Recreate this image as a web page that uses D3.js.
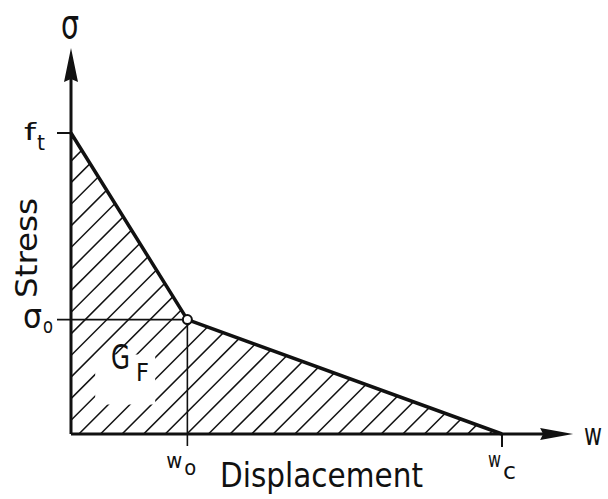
<!DOCTYPE html>
<html>
<head>
<meta charset="utf-8">
<script src="https://cdn.jsdelivr.net/npm/d3@7"></script>
<style>
  html, body { margin: 0; padding: 0; background: #fff; }
  svg { display: block; }
  text { font-family: "DejaVu Sans", sans-serif; fill: #111; }
</style>
</head>
<body>
<svg id="chart" width="608" height="499"></svg>
<script>
// Bilinear softening law: crack opening w against transmitted stress sigma,
// normalised so that f_t = 1 and w_c = 1.
const crackOpening = [0, 0.27, 1];      // 0, w_o, w_c
const stressValues = [1, 0.38, 0];      // f_t, sigma_o, 0
const axisExtent = { w: 1.165, sigma: 1.282 };

// Labels on the axes
const wTickLabels = [
  { main: "w", sub: "o", value: crackOpening[1] },
  { main: "w", sub: "c", value: crackOpening[2] }
];
const sigmaTickLabels = [
  { main: "f", sub: "t", value: stressValues[0] },
  { main: "σ", sub: "o", value: stressValues[1] }
];
const axisTitles = { x: "Displacement", y: "Stress", xSymbol: "w", ySymbol: "σ" };
const areaLabel = { main: "G", sub: "F" };

const svg = d3.select("#chart");
const ink = "#111";

const x = d3.scaleLinear().domain([0, 1]).range([71, 502]);
const y = d3.scaleLinear().domain([0, 1]).range([434, 133]);

const points = crackOpening.map((w, i) => [w, stressValues[i]]);
const polygon = [[0, 0], ...points].map(([w, s]) => [x(w), y(s)]);

// Hatched area under the softening curve (fracture energy)
const defs = svg.append("defs");
defs.append("clipPath").attr("id", "areaClip")
  .append("path")
  .attr("d", "M" + polygon.map(p => p.join(",")).join("L") + "Z");

const mask = defs.append("mask").attr("id", "labelGap");
mask.append("rect").attr("x", 0).attr("y", 0).attr("width", 608).attr("height", 499).attr("fill", "#fff");

const gfX = x(crackOpening[1] * 0.5) - 14;   // centre of the label box
const gfY = y(stressValues[1] * 0.45);
mask.append("rect")
  .attr("x", gfX - 20).attr("y", gfY - 28)
  .attr("width", 60).attr("height", 50)
  .attr("fill", "#000");

const hatch = svg.append("g")
  .attr("clip-path", "url(#areaClip)")
  .attr("mask", "url(#labelGap)");
const spacing = 21.6;
const c0 = x(0.77) + y(0);
const hatchC = d3.range(-30, 40).map(k => c0 - k * spacing);
hatch.selectAll("line").data(hatchC).join("line")
  .attr("x1", c => c - 500).attr("y1", 500)
  .attr("x2", c => c).attr("y2", 0)
  .attr("stroke", ink).attr("stroke-width", 1.5);

// Guide lines to w_o and sigma_o
svg.append("line")
  .attr("x1", x(0) - 14).attr("y1", y(stressValues[1]))
  .attr("x2", x(crackOpening[1])).attr("y2", y(stressValues[1]))
  .attr("stroke", ink).attr("stroke-width", 1.6);
svg.append("line")
  .attr("x1", x(crackOpening[1])).attr("y1", y(stressValues[1]))
  .attr("x2", x(crackOpening[1])).attr("y2", y(0) + 12)
  .attr("stroke", ink).attr("stroke-width", 1.6);

// Ticks for f_t and w_c
svg.append("line")
  .attr("x1", x(0) - 14).attr("y1", y(stressValues[0]))
  .attr("x2", x(0)).attr("y2", y(stressValues[0]))
  .attr("stroke", ink).attr("stroke-width", 2);
svg.append("line")
  .attr("x1", x(crackOpening[2])).attr("y1", y(0))
  .attr("x2", x(crackOpening[2])).attr("y2", y(0) + 13)
  .attr("stroke", ink).attr("stroke-width", 2);

// Axes with arrowheads
const yTop = y(axisExtent.sigma);
const xEnd = x(axisExtent.w);
svg.append("line")
  .attr("x1", x(0)).attr("y1", y(0)).attr("x2", x(0)).attr("y2", yTop + 20)
  .attr("stroke", ink).attr("stroke-width", 3);
svg.append("line")
  .attr("x1", x(0)).attr("y1", y(0)).attr("x2", xEnd - 20).attr("y2", y(0))
  .attr("stroke", ink).attr("stroke-width", 3);
svg.append("path")
  .attr("d", `M${x(0)},${yTop} L${x(0) + 7},${yTop + 34} L${x(0)},${yTop + 31} L${x(0) - 7},${yTop + 34} Z`)
  .attr("fill", ink);
svg.append("path")
  .attr("d", `M${xEnd},${y(0)} L${xEnd - 33},${y(0) - 6} L${xEnd - 30},${y(0)} L${xEnd - 33},${y(0) + 6} Z`)
  .attr("fill", ink);

// Softening curve
svg.append("path")
  .datum(points)
  .attr("d", d3.line().x(d => x(d[0])).y(d => y(d[1])))
  .attr("fill", "none")
  .attr("stroke", ink).attr("stroke-width", 3.5)
  .attr("stroke-linejoin", "round");

// Kink point
svg.append("circle")
  .attr("cx", x(crackOpening[1])).attr("cy", y(stressValues[1]))
  .attr("r", 4.5)
  .attr("fill", "#fff").attr("stroke", ink).attr("stroke-width", 2);

// Text helpers
function label(txt, px, py, size, len, anchor) {
  const t = svg.append("text")
    .attr("x", px).attr("y", py)
    .attr("font-size", size)
    .attr("text-anchor", anchor || "start")
    .text(txt);
  if (len) t.attr("textLength", len).attr("lengthAdjust", "spacingAndGlyphs");
  return t;
}

// Stress tick labels
const ft = sigmaTickLabels[0], so = sigmaTickLabels[1];
label(ft.main, 24, y(ft.value) + 7, 23, 12);
label(ft.sub, 37, y(ft.value) + 17, 22, 8);
label(so.main, 23, y(so.value) + 8, 33, 19);
label(so.sub, 43, y(so.value) + 13, 21, 10);

// Displacement tick labels
const wo = wTickLabels[0], wc = wTickLabels[1];
label(wo.main, x(wo.value) - 21, 468, 22, 16);
label(wo.sub, x(wo.value) - 3, 475, 22, 12);
label(wc.main, x(wc.value) - 14, 467, 21, 13);
label(wc.sub, x(wc.value) + 1, 479, 23, 13);

// Axis symbols
label(axisTitles.ySymbol, 61, 38, 40, 18);
label(axisTitles.xSymbol, 584, 445, 30, 18);

// Axis titles
label(axisTitles.x, 220, 487, 34, 203);
svg.append("text")
  .attr("transform", "translate(37,298) rotate(-90)")
  .attr("font-size", 30)
  .attr("textLength", 100).attr("lengthAdjust", "spacingAndGlyphs")
  .text(axisTitles.y);

// Fracture energy label
label(areaLabel.main, 111, 369, 34, 19);
label(areaLabel.sub, 136, 381, 25, 13);
</script>
</body>
</html>
